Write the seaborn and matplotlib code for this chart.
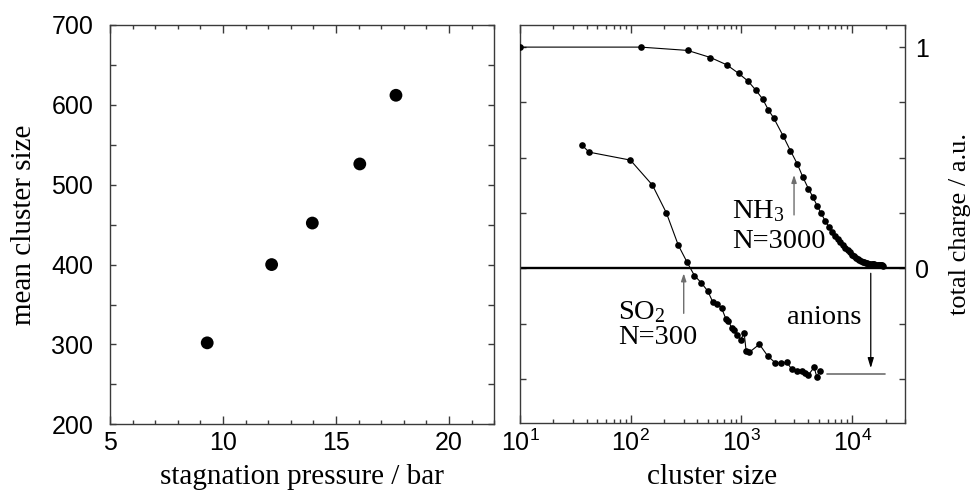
import numpy as np
import pandas as pd
import matplotlib
matplotlib.use("Agg")
import matplotlib.pyplot as plt
from matplotlib.ticker import MultipleLocator, FixedLocator, FuncFormatter, LogLocator, NullFormatter
import seaborn as sns

# ---------------- data ----------------
pressure_bar = [9.3, 12.15, 13.95, 16.05, 17.65]
mean_cluster_size = [302, 400, 452, 526, 612]

nh3_size = [10, 123, 327, 525, 736, 944, 1148, 1355, 1556, 1750, 1958, 2376, 2767,
            3200, 3580, 4030, 4410, 4820, 5240, 5690, 6150, 6570, 6990, 7410, 7830,
            8250, 8670, 9090, 9510, 9930, 10350, 10770, 11190, 11610, 12030, 12450,
            12870, 13290, 13710, 14130, 14550, 14970, 15390, 15810, 16230, 16650,
            17070, 17490, 17910, 18330, 18750, 19150]
nh3_charge = [1.0, 1.0, 0.985, 0.953, 0.920, 0.881, 0.846, 0.804, 0.765, 0.716, 0.679,
              0.599, 0.532, 0.471, 0.413, 0.359, 0.323, 0.283, 0.249, 0.215, 0.188,
              0.163, 0.145, 0.130, 0.117, 0.105, 0.093, 0.082, 0.072, 0.062, 0.054,
              0.047, 0.041, 0.036, 0.032, 0.029, 0.026, 0.024, 0.022, 0.021, 0.020,
              0.019, 0.018, 0.017, 0.016, 0.015, 0.015, 0.014, 0.014, 0.013, 0.013,
              0.012]

so2_size = [36.3, 42, 99.3, 157, 210, 269, 323, 376, 432, 496, 550, 606, 663, 726,
            762, 817, 863, 918, 986, 1057, 1102, 1179, 1452, 1728, 2013, 2266, 2566,
            2847, 3160, 3508, 3758, 4022, 4529, 4787, 5129]
so2_charge = [0.557, 0.525, 0.489, 0.376, 0.250, 0.104, 0.027, -0.033, -0.065, -0.103,
              -0.152, -0.160, -0.181, -0.231, -0.238, -0.270, -0.280, -0.302, -0.324,
              -0.291, -0.374, -0.380, -0.344, -0.397, -0.427, -0.430, -0.425, -0.457,
              -0.463, -0.463, -0.475, -0.483, -0.448, -0.490, -0.463]

left_xlabel = "stagnation pressure / bar"
left_ylabel = "mean cluster size"
right_xlabel = "cluster size"
right_ylabel = "total charge / a.u."

# ---------------- style ----------------
sns.set_style("ticks")
plt.rcParams['font.family'] = ['Liberation Sans', 'DejaVu Sans']
plt.rcParams['mathtext.fontset'] = 'custom'
plt.rcParams['mathtext.rm'] = 'Liberation Serif'
plt.rcParams['mathtext.it'] = 'Liberation Serif:italic'
plt.rcParams['mathtext.bf'] = 'Liberation Serif:bold'
plt.rcParams['mathtext.sf'] = 'Liberation Sans'
plt.rcParams['text.color'] = 'black'
plt.rcParams['axes.labelcolor'] = 'black'
plt.rcParams['xtick.labelcolor'] = 'black'
plt.rcParams['ytick.labelcolor'] = 'black'

SPINE = '#3a3a3a'
TICKFS = 18
LABFS = 21
SERIF = ['Liberation Serif', 'DejaVu Serif']

W, H = 971, 490
fig = plt.figure(figsize=(W / 100, H / 100), dpi=100)

def box(l, t, r, b):
    return [l / W, 1 - b / H, (r - l) / W, (b - t) / H]

ax1 = fig.add_axes(box(110, 25, 494.3, 424.3))
ax2 = fig.add_axes(box(520, 25, 905, 423))

# ---------------- left panel ----------------
df1 = pd.DataFrame({"p": pressure_bar, "n": mean_cluster_size})
sns.scatterplot(data=df1, x="p", y="n", ax=ax1, color="black", s=85,
                edgecolor="none", linewidth=0, legend=False)
ax1.set_xlim(5, 22)
ax1.set_ylim(200, 700)
ax1.xaxis.set_major_locator(MultipleLocator(5))
ax1.xaxis.set_minor_locator(MultipleLocator(1))
ax1.yaxis.set_major_locator(MultipleLocator(100))
ax1.yaxis.set_minor_locator(MultipleLocator(50))
ax1.tick_params(axis='x', which='both', direction='in', top=True, bottom=True,
                color=SPINE, width=1, labelsize=TICKFS, labelcolor='black', pad=5)
ax1.tick_params(axis='x', which='major', length=6)
ax1.tick_params(axis='x', which='minor', length=3)
ax1.tick_params(axis='y', which='both', direction='in', left=True, right=True,
                color=SPINE, width=1, length=4, labelsize=TICKFS, labelcolor='black',
                pad=12)
ax1.set_xlabel("")
ax1.set_ylabel("")

# ---------------- right panel ----------------
df_nh3 = pd.DataFrame({"size": nh3_size, "charge": nh3_charge})
df_so2 = pd.DataFrame({"size": so2_size, "charge": so2_charge})
ax2.axhline(0, color='black', lw=1.7, zorder=1)
for d in (df_nh3, df_so2):
    sns.lineplot(data=d, x="size", y="charge", ax=ax2, color="black", lw=0.8,
                 marker='o', markersize=4.8, markeredgewidth=0, estimator=None,
                 sort=False, legend=False, zorder=3)
ax2.set_xscale('log')
ax2.set_xlim(10, 30000)
ax2.set_ylim(-0.7, 1.1)
ax2.xaxis.set_major_locator(LogLocator(base=10, numticks=10))
ax2.xaxis.set_minor_locator(LogLocator(base=10, subs=np.arange(2, 10), numticks=20))
ax2.xaxis.set_minor_formatter(NullFormatter())
ax2.xaxis.set_major_formatter(FuncFormatter(
    lambda v, p: r'$\mathsf{10^{%d}}$' % int(round(np.log10(v)))))
ax2.yaxis.set_major_locator(FixedLocator([-0.5, -0.25, 0, 0.25, 0.5, 0.75, 1.0]))
ax2.yaxis.set_major_formatter(FuncFormatter(
    lambda v, p: '%d' % round(v) if abs(v - round(v)) < 1e-9 else ''))
ax2.tick_params(axis='x', which='both', direction='in', top=True, bottom=True,
                color=SPINE, width=1, labelsize=TICKFS, labelcolor='black', pad=5)
ax2.tick_params(axis='x', which='major', length=6)
ax2.tick_params(axis='x', which='minor', length=3)
ax2.tick_params(axis='y', which='both', direction='in', left=True, right=True,
                labelleft=False, labelright=True, color=SPINE, width=1, length=4,
                labelsize=TICKFS, labelcolor='black', pad=7)
ax2.set_xlabel("")
ax2.set_ylabel("")

for ax in (ax1, ax2):
    for s in ax.spines.values():
        s.set_color(SPINE)
        s.set_linewidth(1.0)

# annotations
GRAY = '#6e6e6e'
ANNFS = 20.5
ax2.annotate('', xy=(2985, 0.422), xytext=(2985, 0.241),
             arrowprops=dict(arrowstyle='-|>,head_length=0.45,head_width=0.15',
                             color=GRAY, lw=1.0, shrinkA=0, shrinkB=0))
ax2.text(817, 0.225, r'NH$_3$', family=SERIF, fontsize=ANNFS, ha='left', va='baseline')
ax2.text(817, 0.092, 'N=3000', family=SERIF, fontsize=ANNFS, ha='left', va='baseline')

ax2.annotate('', xy=(301, -0.023), xytext=(301, -0.204),
             arrowprops=dict(arrowstyle='-|>,head_length=0.45,head_width=0.15',
                             color=GRAY, lw=1.0, shrinkA=0, shrinkB=0))
ax2.text(76.7, -0.228, r'SO$_2$', family=SERIF, fontsize=ANNFS, ha='left', va='baseline')
ax2.text(76.7, -0.343, 'N=300', family=SERIF, fontsize=ANNFS, ha='left', va='baseline')

ax2.text(2565, -0.253, 'anions', family=SERIF, fontsize=ANNFS, ha='left', va='baseline')
ax2.annotate('', xy=(14720, -0.452), xytext=(14720, -0.023),
             arrowprops=dict(arrowstyle='-|>,head_length=0.6,head_width=0.18',
                             color='black', lw=0.9, shrinkA=0, shrinkB=0))
ax2.plot([5900, 19800], [-0.478, -0.478], color=GRAY, lw=1.2)

# axis titles
fig.text(24 / W, 1 - 224.7 / H, left_ylabel, family=SERIF, fontsize=LABFS,
         rotation=90, ha='center', va='center')
fig.text(302 / W, 1 - 484 / H, left_xlabel, family=SERIF, fontsize=LABFS,
         ha='center', va='baseline')
fig.text(712.5 / W, 1 - 484 / H, right_xlabel, family=SERIF, fontsize=LABFS,
         ha='center', va='baseline')
fig.text(960 / W, 1 - 224 / H, right_ylabel, family=SERIF, fontsize=19,
         rotation=90, ha='center', va='center')

fig.savefig("out.png", dpi=100)
